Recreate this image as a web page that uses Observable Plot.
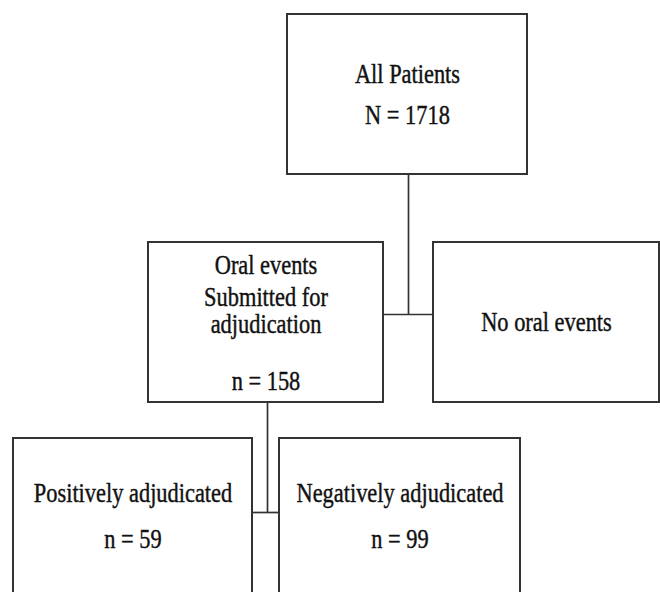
<!DOCTYPE html>
<html>
<head>
<meta charset="utf-8">
<script src="https://cdn.jsdelivr.net/npm/d3@7"></script>
<script src="https://cdn.jsdelivr.net/npm/@observablehq/plot@0.6"></script>
<style>
  html, body { margin: 0; padding: 0; background: #ffffff; }
  #chart { width: 660px; height: 592px; overflow: hidden; }
</style>
</head>
<body>
<div id="chart"></div>
<script>
// ---- chart content (flow diagram) ----
const nodeTitles = ["All Patients", "Oral events", "No oral events", "Positively adjudicated", "Negatively adjudicated"];
const nodeNotes = [[], ["Submitted for", "adjudication"], [], [], []];
const countSymbols = ["N", "n", null, "n", "n"];
const nodeCounts = [1718, 158, null, 59, 99];
// parent -> children links (indices into nodeTitles)
const flowParents = [0, 1];
const flowChildren = [[1, 2], [3, 4]];

// ---- layout (pixel coordinates of the drawing) ----
const boxX1 = [287, 148, 433, 13, 279];
const boxX2 = [527, 383, 659, 252, 520];
const boxY1 = [14, 242, 242, 438, 438];
const boxY2 = [174, 402, 402, 600, 600];
const lineBaselines = [[82, 123], [273, 305, 332, 389], [330], [501, 547], [501, 547]];
const junctionX = [408, 267];
const junctionY = [314, 512];

// build tables
const boxes = nodeTitles.map((t, i) => ({x1: boxX1[i], x2: boxX2[i], y1: boxY1[i], y2: boxY2[i]}));
const texts = [];
nodeTitles.forEach((t, i) => {
  const lines = [t, ...nodeNotes[i]];
  if (nodeCounts[i] != null) lines.push(`${countSymbols[i]} = ${nodeCounts[i]}`);
  const cx = (boxX1[i] + boxX2[i]) / 2;
  lines.forEach((s, j) => texts.push({x: cx, y: lineBaselines[i][j], text: s}));
});
const links = [];
flowParents.forEach((p, k) => {
  const [a, b] = flowChildren[k];
  links.push({x1: junctionX[k], y1: boxY2[p], x2: junctionX[k], y2: junctionY[k]});
  links.push({x1: boxX2[a], y1: junctionY[k], x2: boxX1[b], y2: junctionY[k]});
});

const stroke = "#333333";
const plot = Plot.plot({
  width: 660,
  height: 592,
  margin: 0,
  x: {domain: [0, 660], range: [0, 660], axis: null},
  y: {domain: [0, 592], range: [0, 592], axis: null},
  style: {background: "#ffffff"},
  marks: [
    Plot.link(links, {x1: "x1", y1: "y1", x2: "x2", y2: "y2", stroke, strokeWidth: 1.7}),
    Plot.rect(boxes, {x1: "x1", x2: "x2", y1: "y1", y2: "y2", fill: "#ffffff", stroke, strokeWidth: 2}),
    Plot.text(texts, {x: "x", y: "y", text: "text", fontSize: 22.4, fontFamily: "'Liberation Serif', 'Times New Roman', serif",
      fill: "#111111", stroke: "#111111", strokeWidth: 0.35, lineAnchor: "bottom", textAnchor: "middle"})
  ]
});
// vertically stretched glyphs as in the reference image
plot.querySelectorAll('g[aria-label="text"] text').forEach((t) => {
  let tr = t.getAttribute("transform");
  if (!tr) {
    const x = +t.getAttribute("x") || 0, y = +t.getAttribute("y") || 0;
    t.removeAttribute("x"); t.removeAttribute("y");
    tr = `translate(${x},${y})`;
  }
  t.setAttribute("transform", tr + " scale(1,1.2)");
});
document.getElementById("chart").appendChild(plot);
</script>
</body>
</html>
